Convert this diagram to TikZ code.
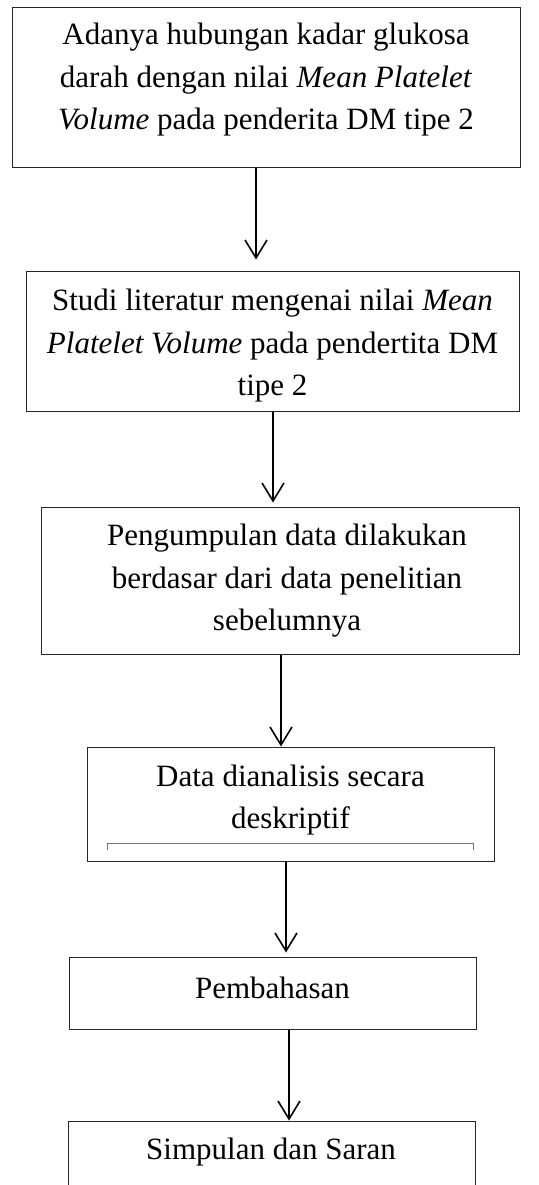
\documentclass[tikz,border=0pt]{standalone}
\usepackage{fontspec}
\setmainfont{Liberation Serif}
\usetikzlibrary{arrows.meta}
\begin{document}
\begin{tikzpicture}[x=1pt,y=-1pt,
  box/.style={draw=black!85, line width=1pt, rectangle, inner sep=0pt},
  txt/.style={inner sep=0pt, align=center, font=\fontsize{31}{42.5}\selectfont},
  arr/.style={draw=black, line width=1.6pt, -{Straight Barb[length=18pt,width=22pt,line width=1.6pt]}}]
\useasboundingbox (0,0) rectangle (538,1185);
\clip (0,0) rectangle (538,1185);
% boxes
\node[box, minimum width=508pt, minimum height=160pt] (b1) at (266,88) {};
\node[box, minimum width=493pt, minimum height=140pt] (b2) at (272.5,341) {};
\node[box, minimum width=478pt, minimum height=147pt] (b3) at (280,580.5) {};
\node[box, minimum width=407pt, minimum height=114pt] (b4) at (290.5,804) {};
\node[box, minimum width=407pt, minimum height=72pt] (b5) at (272.5,993) {};
\node[box, minimum width=407pt, minimum height=140pt] (b6) at (271.5,1191) {};
% texts
\node[txt] (t1) at (266,80) {Adanya hubungan kadar glukosa\\darah dengan nilai \textit{Mean Platelet}\\\textit{Volume} pada penderita DM tipe 2};
\node[txt] (t2) at (272.5,346) {Studi literatur mengenai nilai \textit{Mean}\\\textit{Platelet Volume} pada pendertita DM\\tipe 2};
\node[txt] (t3) at (287,581) {Pengumpulan data dilakukan\\berdasar dari data penelitian\\sebelumnya};
\node[txt] (t4) at (290.5,800) {Data dianalisis secara\\deskriptif};
\node[txt] (t5) at (272.5,988) {Pembahasan};
\node[txt] (t6) at (271,1152) {Simpulan dan Saran};
% bracket line inside box 4
\draw[draw=black!55, line width=0.8pt] (107,850) -- (107,843) -- (473,843) -- (473,850);
% arrow columns
\coordinate (a1) at (256,0);
\coordinate (a2) at (273,0);
\coordinate (a3) at (281,0);
\coordinate (a4) at (286,0);
\coordinate (a5) at (289,0);
\draw[arr] (b1.south -| a1) -- ([yshift=11pt]b2.north -| a1);
\draw[arr] (b2.south -| a2) -- ([yshift=4pt]b3.north -| a2);
\draw[arr] (b3.south -| a3) -- (b4.north -| a3);
\draw[arr] (b4.south -| a4) -- ([yshift=4pt]b5.north -| a4);
\draw[arr] (b5.south -| a5) -- (b6.north -| a5);
\end{tikzpicture}
\end{document}
